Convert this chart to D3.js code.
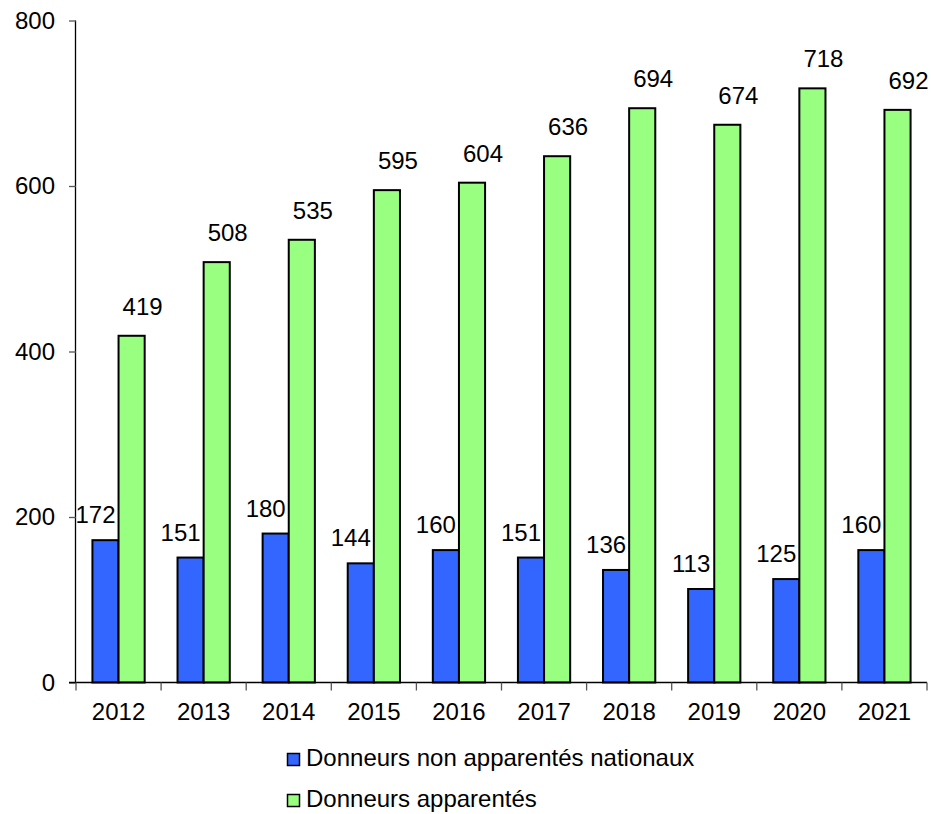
<!DOCTYPE html>
<html>
<head>
<meta charset="utf-8">
<script src="https://cdn.jsdelivr.net/npm/d3@7"></script>
<style>
  html, body { margin: 0; padding: 0; background: #fff; }
  svg { display: block; font-family: Arial, "Liberation Sans", sans-serif; }
</style>
</head>
<body>
<svg id="chart" width="931" height="814"></svg>
<script>
const years = ["2012","2013","2014","2015","2016","2017","2018","2019","2020","2021"];
const seriesNames = ["Donneurs non apparentés nationaux", "Donneurs apparentés"];
const nonApparentes = [172, 151, 180, 144, 160, 151, 136, 113, 125, 160];
const apparentes = [419, 508, 535, 595, 604, 636, 694, 674, 718, 692];
const yTicks = [0, 200, 400, 600, 800];
const colors = ["#3366FF", "#99FF80"];

const svg = d3.select("#chart");
const plotLeft = 76, plotRight = 927, plotTop = 20.5, plotBottom = 682.5;
const fontSize = 24;

const x0 = d3.scaleBand().domain(years).range([plotLeft, plotRight]).padding(0);
const bw = x0.bandwidth();
const x1 = d3.scaleBand().domain(seriesNames).range([bw * 0.193, bw * 0.807]).padding(0);
const y = d3.scaleLinear().domain([0, 800]).range([plotBottom, plotTop]);

const data = years.map((yr, i) => ({ year: yr, values: [nonApparentes[i], apparentes[i]] }));

// bars
const groups = svg.append("g").selectAll("g").data(data).join("g")
  .attr("transform", d => `translate(${x0(d.year)},0)`);
groups.selectAll("rect").data(d => d.values.map((v, k) => ({ v, k })))
  .join("rect")
  .attr("x", d => x1(seriesNames[d.k]))
  .attr("y", d => y(d.v))
  .attr("width", x1.bandwidth())
  .attr("height", d => y(0) - y(d.v))
  .attr("fill", d => colors[d.k])
  .attr("stroke", "#000")
  .attr("stroke-width", 2);

// value labels
const labelDx = [-10, 11], labelGap = [17, 21];
groups.selectAll("text").data(d => d.values.map((v, k) => ({ v, k })))
  .join("text")
  .attr("x", d => x1(seriesNames[d.k]) + x1.bandwidth() / 2 + labelDx[d.k])
  .attr("y", d => y(d.v) - labelGap[d.k])
  .attr("text-anchor", "middle")
  .attr("font-size", fontSize)
  .attr("fill", "#000")
  .text(d => d.v);

// y axis
const yAxis = d3.axisLeft(y).tickValues(yTicks).tickSize(7).tickPadding(14);
const gy = svg.append("g").attr("transform", `translate(${plotLeft},0)`).call(yAxis);
gy.select(".domain").attr("stroke", "#000").attr("stroke-width", 1.3).attr("d", `M-0.5,${plotTop}V${plotBottom}`);
gy.selectAll(".tick line").attr("stroke", "#555").attr("stroke-width", 1.3);
gy.selectAll(".tick text").attr("font-size", fontSize).attr("font-family", "Arial, 'Liberation Sans', sans-serif").attr("fill", "#000");

// x axis
const boundaries = years.map(yr => x0(yr)).concat([plotRight]);
const gx = svg.append("g").attr("transform", `translate(0,${plotBottom})`);
gx.append("line").attr("x1", plotLeft - 7).attr("x2", plotRight).attr("y1", 0).attr("y2", 0)
  .attr("stroke", "#000").attr("stroke-width", 1.3);
gx.selectAll("line.tk").data(boundaries).join("line").attr("class", "tk")
  .attr("x1", d => d).attr("x2", d => d).attr("y1", 0).attr("y2", 8)
  .attr("stroke", "#555").attr("stroke-width", 1.3);
gx.selectAll("text").data(years).join("text")
  .attr("x", d => x0(d) + bw / 2)
  .attr("y", 37)
  .attr("text-anchor", "middle")
  .attr("font-size", fontSize)
  .attr("fill", "#000")
  .text(d => d);

// legend
const legend = svg.append("g");
const legY = [766, 807];
seriesNames.forEach((name, k) => {
  legend.append("rect").attr("x", 287.5).attr("y", legY[k] - 12.5).attr("width", 12).attr("height", 12)
    .attr("fill", colors[k]).attr("stroke", "#000").attr("stroke-width", 1.5);
  legend.append("text").attr("x", 306).attr("y", legY[k])
    .attr("font-size", fontSize).attr("fill", "#000").text(name);
});
</script>
</body>
</html>
